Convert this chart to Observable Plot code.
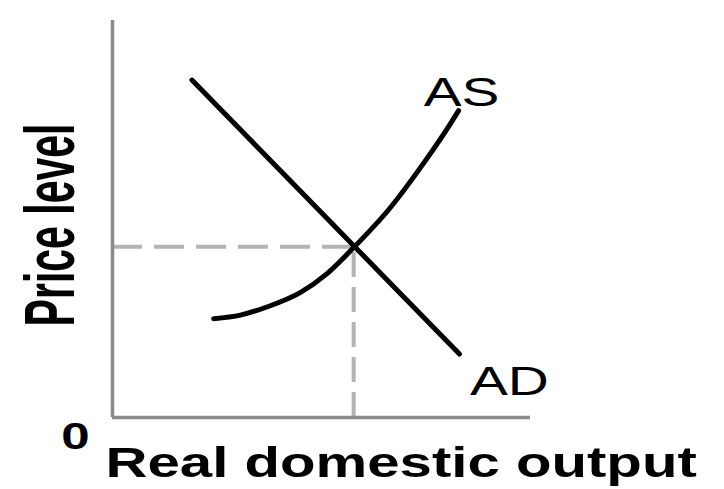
<!DOCTYPE html>
<html>
<head>
<meta charset="utf-8">
<script src="https://cdn.jsdelivr.net/npm/d3@7"></script>
<script src="https://cdn.jsdelivr.net/npm/@observablehq/plot@0.6"></script>
<style>
  html, body { margin: 0; padding: 0; background: #ffffff; }
  svg { display: block; }
</style>
</head>
<body>
<script>
// Aggregate supply curve (real output, price level)
const asOutput = [2.42, 3.06, 3.71, 4.50, 5.14, 5.77, 6.65, 7.44, 8.09, 8.28];
const asPrice  = [2.49, 2.58, 2.79, 3.15, 3.63, 4.28, 5.29, 6.40, 7.41, 7.73];
// Aggregate demand line (endpoints)
const adOutput = [1.9, 8.3];
const adPrice  = [8.5, 1.6];
// Equilibrium
const eqOutput = [5.77];
const eqPrice  = [4.3];
// Text
const curveLabels = ["AS", "AD"];
const originLabel = ["0"];
const xLabel = "Real domestic output";
const yLabel = "Price level";

const asData = asOutput.map((q, i) => ({q, p: asPrice[i]}));
const adData = adOutput.map((q, i) => ({q, p: adPrice[i]}));
const eq = eqOutput.map((q, i) => ({q, p: eqPrice[i]}));

const font = "'Liberation Sans', Arial, sans-serif";

const svg = Plot.plot({
  width: 724,
  height: 489,
  marginLeft: 112,
  marginRight: 194,
  marginTop: 20,
  marginBottom: 72,
  style: {background: "#ffffff", fontFamily: font, overflow: "visible"},
  x: {domain: [0, 10], axis: null},
  y: {domain: [0, 10], axis: null},
  marks: [
    // dashed guides to the equilibrium
    Plot.ruleY(eq, {y: "p", x1: 0, x2: "q", stroke: "#b4b4b4", strokeWidth: 4, strokeDasharray: "30,12"}),
    Plot.ruleX(eq, {x: "q", y1: 0, y2: "p", stroke: "#b4b4b4", strokeWidth: 4, strokeDasharray: "25,10"}),
    // axes
    Plot.ruleX([0], {stroke: "#8a8a8a", strokeWidth: 3.5}),
    Plot.ruleY([0], {stroke: "#8a8a8a", strokeWidth: 3.5}),
    // curves
    Plot.line(adData, {x: "q", y: "p", stroke: "#000", strokeWidth: 5}),
    Plot.line(asData, {x: "q", y: "p", stroke: "#000", strokeWidth: 5, curve: "monotone-x"}),
    // curve labels
    Plot.text([asData[asData.length - 1]], {x: "q", y: "p", text: () => curveLabels[0], dx: 3, dy: -5,
      textAnchor: "middle", lineAnchor: "bottom", fontSize: 40, fill: "#000"}),
    Plot.text([adData[adData.length - 1]], {x: "q", y: "p", text: () => curveLabels[1], dx: 50, dy: 41,
      textAnchor: "middle", lineAnchor: "bottom", fontSize: 40, fill: "#000"}),
    // origin label
    Plot.text(originLabel, {x: () => 0, y: () => 0, text: d => d, dx: -37, dy: 31,
      textAnchor: "middle", lineAnchor: "bottom", fontSize: 36, fontWeight: "bold", fill: "#000"}),
    // axis titles
    Plot.text([xLabel], {frameAnchor: "bottom-left", text: d => d, dx: -7, dy: 59,
      textAnchor: "start", lineAnchor: "bottom", fontSize: 42, fontWeight: "bold", fill: "#000"}),
    Plot.text([yLabel], {frameAnchor: "left", text: d => d, dx: -39, dy: 6, rotate: -90,
      textAnchor: "middle", lineAnchor: "bottom", fontSize: 41, fontWeight: "bold", fill: "#000"})
  ]
});

// The reference image is horizontally stretched: widen the glyphs accordingly.
d3.select(svg).selectAll("text").each(function() {
  const t = this.getAttribute("transform") || "";
  if (t.includes("rotate")) {
    this.setAttribute("transform", t + " scale(1,1.7)");
  } else if (this.textContent === xLabel) {
    this.setAttribute("transform", t + " scale(1.385,1)");
  } else {
    this.setAttribute("transform", t + " scale(1.42,1)");
  }
});

document.body.appendChild(svg);
</script>
</body>
</html>
